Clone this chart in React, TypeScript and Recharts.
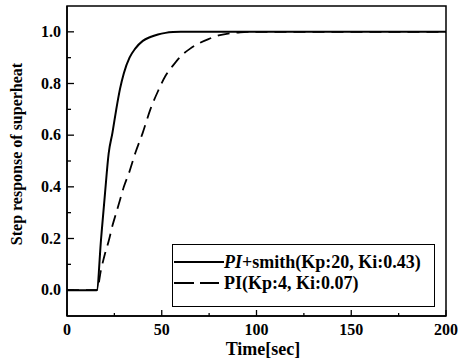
import React from "react";
import {LineChart, Line, XAxis, YAxis, ReferenceArea, Label} from "recharts";

// time in seconds
const time = [0, 15.7, 18, 20, 22, 24, 26, 28, 30, 33, 36, 40, 44, 48, 52, 56, 60, 65, 70, 75, 80, 85, 90, 95, 100, 150, 200];
const smithResponse = [0, 0, 0.2, 0.37, 0.53, 0.61, 0.7, 0.78, 0.84, 0.9, 0.935, 0.965, 0.98, 0.99, 0.996, 0.999, 1, 1, 1, 1, 1, 1, 1, 1, 1, 1, 1];
const piResponse = [0, 0, 0.08, 0.14, 0.19, 0.25, 0.3, 0.35, 0.4, 0.46, 0.53, 0.61, 0.7, 0.77, 0.83, 0.87, 0.905, 0.935, 0.957, 0.973, 0.986, 0.993, 0.997, 1, 1, 1, 1];

const xTicks = [0, 25, 50, 75, 100, 125, 150, 175, 200];
const xLabels = [0, 50, 100, 150, 200];
const yTicks = [0, 0.1, 0.2, 0.3, 0.4, 0.5, 0.6, 0.7, 0.8, 0.9, 1.0];
const yLabels = [0, 0.2, 0.4, 0.6, 0.8, 1.0];

const data = time.map((t, i) => ({t, smith: smithResponse[i], pi: piResponse[i]}));

const FONT = "'Liberation Serif', 'Times New Roman', serif";

function isMajor(v: number, list: number[]) {
  return list.some((m) => Math.abs(m - v) < 1e-6);
}

function XTick({x, y, payload}: any) {
  const major = isMajor(payload.value, xLabels);
  return (
    <g>
      <line x1={x} x2={x} y1={y} y2={y - (major ? 6 : 3)} stroke="#000" strokeWidth={1.3} />
      {major && (
        <text x={x} y={y + 19} textAnchor="middle" fontFamily={FONT} fontWeight="bold" fontSize={16} fill="#000">
          {payload.value}
        </text>
      )}
    </g>
  );
}

function YTick({x, y, payload}: any) {
  const major = isMajor(payload.value, yLabels);
  return (
    <g>
      <line x1={x} x2={x + (major ? 7 : 4)} y1={y} y2={y} stroke="#000" strokeWidth={1.3} />
      {major && (
        <text x={x - 6} y={y + 5} textAnchor="end" fontFamily={FONT} fontWeight="bold" fontSize={16} fill="#000">
          {payload.value.toFixed(1)}
        </text>
      )}
    </g>
  );
}

function XTitle() {
  return (
    <text x={263} y={355} textAnchor="middle" fontFamily={FONT} fontWeight="bold" fontSize={18} fill="#000">
      Time[sec]
    </text>
  );
}

function YTitle() {
  return (
    <text
      x={22}
      y={154}
      transform="rotate(-90 22 154)"
      textAnchor="middle"
      fontFamily={FONT}
      fontWeight="bold"
      fontSize={16}
      fill="#000">
      Step response of superheat
    </text>
  );
}

const series = [
  {key: "smith", name: "+smith(Kp:20, Ki:0.43)", prefix: "PI", italic: true, dash: undefined},
  {key: "pi", name: "(Kp:4, Ki:0.07)", prefix: "PI", italic: false, dash: "12 7"},
];

export default function App() {
  return (
    <div style={{position: "absolute", left: 0, top: 0, width: 459, height: 362, background: "#fff"}}>
      <LineChart width={459} height={362} data={data} margin={{top: 6, right: 13, left: 0, bottom: 0}}>
        <XAxis
          dataKey="t"
          type="number"
          domain={[0, 200]}
          ticks={xTicks}
          interval={0}
          tickSize={0}
          tickMargin={0}
          tick={<XTick />}
          height={46}
          stroke="#000"
          strokeWidth={1.5}>
          <Label content={<XTitle />} />
        </XAxis>
        <YAxis
          type="number"
          domain={[-0.1, 1.1]}
          ticks={yTicks}
          interval={0}
          tickSize={0}
          tickMargin={0}
          tick={<YTick />}
          width={67}
          stroke="#000"
          strokeWidth={1.5}
          allowDataOverflow>
          <Label content={<YTitle />} />
        </YAxis>
        <ReferenceArea x1={0} x2={200} y1={-0.1} y2={1.1} stroke="#000" strokeWidth={1.5} fill="none" fillOpacity={0} />
        <Line dataKey="pi" type="monotone" stroke="#000" strokeWidth={1.8} strokeDasharray="12 7" dot={false} isAnimationActive={false} />
        <Line dataKey="smith" type="monotone" stroke="#000" strokeWidth={2} dot={false} isAnimationActive={false} />
      </LineChart>
      <div
        style={{
          position: "absolute",
          left: 172,
          top: 244,
          width: 263,
          height: 63,
          border: "1px solid #000",
          boxSizing: "border-box",
          background: "#fff",
        }}>
        {series.map((s, i) => (
          <div
            key={s.key}
            style={{
              position: "absolute",
              left: 0,
              top: 7 + i * 21,
              height: 20,
              display: "flex",
              alignItems: "center",
              fontFamily: FONT,
              fontWeight: "bold",
              fontSize: 18,
              whiteSpace: "nowrap",
            }}>
            <svg width={51} height={20}>
              <line x1={1} x2={51} y1={10} y2={10} stroke="#000" strokeWidth={2} strokeDasharray={s.dash ? "20 6 19 10" : undefined} />
            </svg>
            <span style={{fontStyle: s.italic ? "italic" : "normal"}}>{s.prefix}</span>
            <span>{s.name}</span>
          </div>
        ))}
      </div>
    </div>
  );
}
